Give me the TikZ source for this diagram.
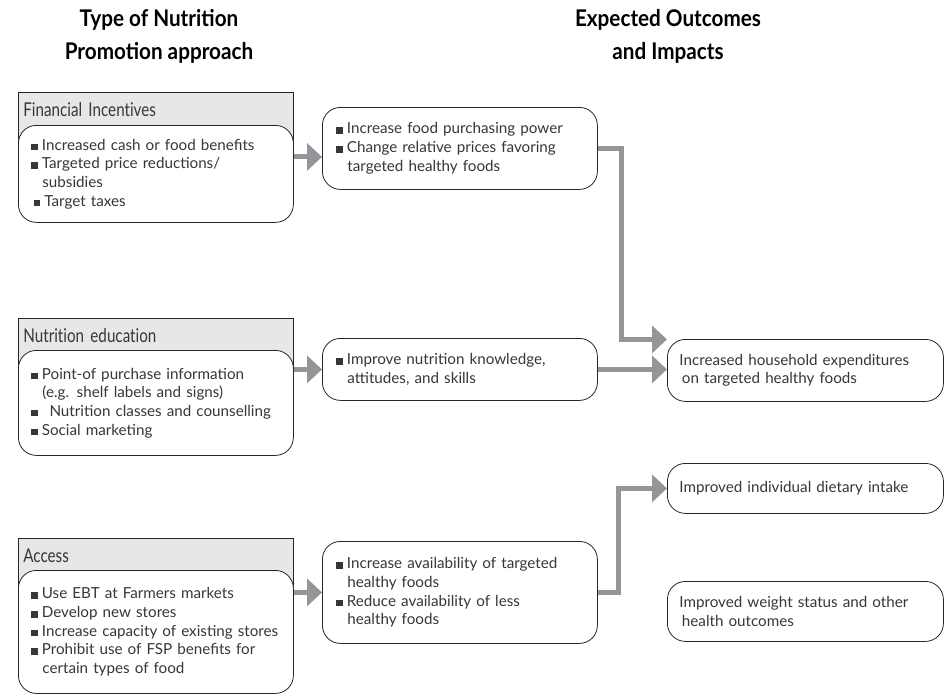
\documentclass[tikz,border=0pt]{standalone}
\usepackage{fontspec}
\setmainfont{Lato}
\newfontfamily\headfont[FakeStretch=0.8,Ligatures=NoCommon]{Lato}
\newfontfamily\titlefont[FakeStretch=0.9]{Lato}
\usetikzlibrary{arrows.meta}

\definecolor{hdrgray}{RGB}{230,231,232}
\definecolor{arrowgray}{RGB}{147,149,152}
\definecolor{txtgray}{RGB}{55,55,55}

\newcommand{\bul}{\rule{6.5pt}{6.5pt}\hspace{4pt}}
\newcommand{\ind}{\hspace*{11pt}}

\tikzset{
  title/.style={align=center, font=\titlefont\bfseries\fontsize{23}{33}\selectfont},
  hdr/.style={draw=black!85, line width=0.7pt, fill=hdrgray, rectangle, anchor=north west,
    text width=265pt, inner xsep=5pt, inner ysep=0pt, text height=24pt, text depth=36pt,
    align=left, text=txtgray, font=\headfont\fontsize{19}{22}\selectfont},
  inbox/.style={draw=black!85, line width=0.8pt, fill=white, rounded corners=18pt,
    anchor=north west, align=left, text=txtgray, font=\fontsize{15.2}{18.7}\selectfont},
  leftbox/.style={inbox, text width=249pt, inner xsep=13pt},
  midbox/.style={inbox, text width=247pt, inner xsep=14pt},
  outbox/.style={inbox, text width=252pt, inner xsep=12pt},
  flow/.style={draw=arrowgray, line width=5pt, line join=miter,
    -{Triangle[length=15pt,width=27pt]}}
}

\begin{document}
\begin{tikzpicture}[x=1pt,y=-1pt]
  \useasboundingbox (0,0) rectangle (949,697);

  % column titles
  \node[title] (ttype) at (159,36) {Type of Nutrition\\Promotion approach};
  \node[title] (texp) at (668,36) {Expected Outcomes\\and Impacts};

  % approaches
  \node[hdr] (finhdr) at (18,92) {Financial Incentives};
  \node[leftbox, minimum height=97pt] (finbox) at (18,125)
    {\bul Increased cash or food benefits\\
     \bul Targeted price reductions/\\
     \ind subsidies\\
     \,\bul Target taxes};

  \node[hdr] (eduhdr) at (18,318) {Nutrition education};
  \node[leftbox, minimum height=105pt] (edubox) at (18,350)
    {\bul Point-of purchase information\\
     \ind (e.g. shelf labels and signs)\\
     \bul\, Nutrition classes and counselling\\
     \bul Social marketing};

  \node[hdr] (acchdr) at (18,538) {Access};
  \node[leftbox, minimum height=123pt] (accbox) at (18,570)
    {\bul Use EBT at Farmers markets\\
     \bul Develop new stores\\
     \bul Increase capacity of existing stores\\
     \bul Prohibit use of FSP benefits for\\
     \ind certain types of food};

  % expected effects
  \node[midbox, minimum height=82pt] (effa) at (322,107)
    {\bul Increase food purchasing power\\
     \bul Change relative prices favoring\\
     \ind targeted healthy foods};
  \node[midbox, minimum height=62pt] (effb) at (322,338)
    {\bul Improve nutrition knowledge,\\
     \ind attitudes, and skills};
  \node[midbox, minimum height=102pt] (effc) at (322,541)
    {\bul Increase availability of targeted\\
     \ind healthy foods\\
     \bul Reduce availability of less\\
     \ind healthy foods};

  % outcomes
  \node[outbox, minimum height=62pt] (expend) at (667,339)
    {Increased household expenditures\\
     \,on targeted healthy foods};
  \node[outbox, minimum height=50pt] (intake) at (667,463)
    {Improved individual dietary intake};
  \node[outbox, minimum height=60pt] (weight) at (667,581)
    {Improved weight status and other\\
     \,health outcomes};

  % arrows
  \draw[flow] ([yshift=17pt]finbox.east) -- ([yshift=17pt]finbox.east -| effa.west);
  \draw[flow] (edubox.east |- effb.west) -- (effb.west);
  \draw[flow] (accbox.east |- effc.west) -- (effc.west);
  \draw[flow] (effa.east) -- ++(24,0) |- ([yshift=31pt]expend.west);
  \draw[flow] (effb.east) -- (effb.east -| expend.west);
  \draw[flow] (effc.east) -- ++(21,0) |- (intake.west);
\end{tikzpicture}
\end{document}
